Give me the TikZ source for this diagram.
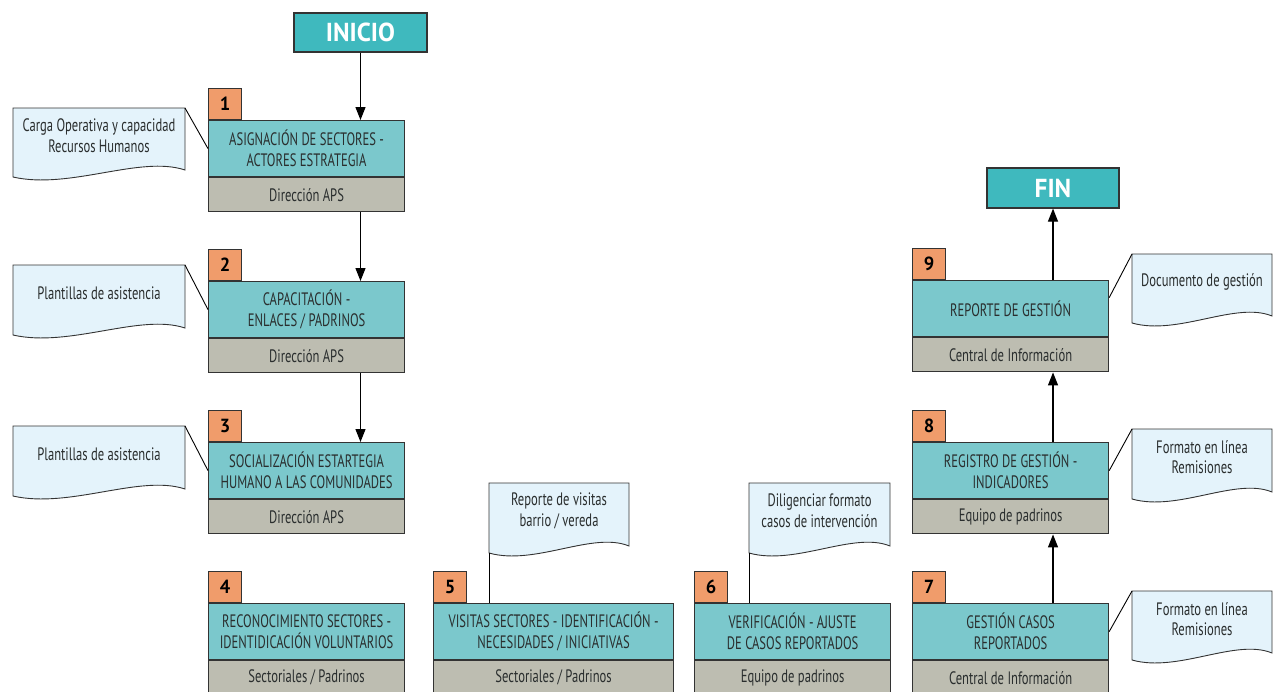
\documentclass[tikz,border=0pt]{standalone}
\usepackage{fontspec}
\setmainfont{PT Sans}[FakeStretch=0.70]
\newfontfamily\headfont{PT Sans}[FakeStretch=0.97]
\usetikzlibrary{arrows.meta}
\definecolor{iniciofill}{HTML}{3FB9BE}
\definecolor{tealfill}{HTML}{7BC8CC}
\definecolor{grayfill}{HTML}{BDBDB1}
\definecolor{badgefill}{HTML}{F09C6B}
\definecolor{notefill}{HTML}{E4F3FB}
\definecolor{bord}{HTML}{333333}
\definecolor{txt}{HTML}{2A2E2E}
\newcommand\notebox[6]{%
  \draw[notestyle] (#2,#3) -- (#4,#3) -- (#4,{#5-7})
    .. controls ({#4-0.26*(#4-#2)},{#5-22}) and ({#2+0.33*(#4-#2)},{#5+13}) .. (#2,#5) -- cycle;
  \node[notetext] (#1) at ({(#2+#4)/2},{#3+28}) {#6};
  \coordinate (#1-tl) at (#2,#3);
  \coordinate (#1-tr) at (#4,#3);
  \coordinate (#1-bl) at (#2,#5);
}
\begin{document}
\begin{tikzpicture}[x=1pt,y=-1pt,
  bodyfont/.style={font=\fontsize{18}{20.7}\selectfont},
  stepbox/.style={draw=bord, line width=1.2pt, fill=tealfill, minimum height=56pt,
    inner sep=0pt, align=center, text=txt, bodyfont, anchor=north west},
  rolebox/.style={draw=bord, line width=1.2pt, fill=grayfill, minimum height=34pt,
    inner sep=0pt, align=center, text=txt, bodyfont, anchor=north west},
  badge/.style={draw=bord, line width=1.2pt, fill=badgefill, minimum width=33pt,
    minimum height=31pt, inner sep=0pt, text=black,
    font=\headfont\fontsize{19}{19}\bfseries\selectfont, anchor=south west},
  endbox/.style={draw=bord, line width=1.2pt, fill=iniciofill, inner sep=0pt,
    text=white, font=\headfont\fontsize{26}{26}\bfseries\selectfont},
  notestyle/.style={draw=bord, line width=0.9pt, fill=notefill},
  notetext/.style={align=center, text=txt, bodyfont, inner sep=0pt},
  link/.style={draw=black, line width=0.9pt},
  arr/.style={draw=black, line width=1.2pt, -{Triangle[length=13pt,width=10pt]}}
]
\useasboundingbox (0,0) rectangle (1273,691);
\clip (0,0) rectangle (1273,691);

% start / end
\node[endbox, minimum width=133pt, minimum height=39pt] (inicio) at (360.5,32.5) {INICIO};
\node[endbox, minimum width=132pt, minimum height=40pt] (fin) at (1053,188) {FIN};

% column 1
\node[stepbox, minimum width=196pt] (s1) at (208,120) {ASIGNACIÓN DE SECTORES -\\ACTORES ESTRATEGIA};
\node[rolebox, minimum width=196pt] (r1) at (s1.south west) {Dirección APS};
\node[badge] (b1) at (s1.north west) {1};

\node[stepbox, minimum width=196pt] (s2) at (208,281) {CAPACITACIÓN -\\ENLACES / PADRINOS};
\node[rolebox, minimum width=196pt] (r2) at (s2.south west) {Dirección APS};
\node[badge] (b2) at (s2.north west) {2};

\node[stepbox, minimum width=196pt] (s3) at (208,442) {SOCIALIZACIÓN ESTARTEGIA\\HUMANO A LAS COMUNIDADES};
\node[rolebox, minimum width=196pt] (r3) at (s3.south west) {Dirección APS};
\node[badge] (b3) at (s3.north west) {3};

\node[stepbox, minimum width=196pt] (s4) at (208,603) {RECONOCIMIENTO SECTORES -\\IDENTIDICACIÓN VOLUNTARIOS};
\node[rolebox, minimum width=196pt] (r4) at (s4.south west) {Sectoriales / Padrinos};
\node[badge] (b4) at (s4.north west) {4};

% bottom row
\node[stepbox, minimum width=240pt] (s5) at (433,603) {VISITAS SECTORES - IDENTIFICACIÓN -\\NECESIDADES / INICIATIVAS};
\node[rolebox, minimum width=240pt] (r5) at (s5.south west) {Sectoriales / Padrinos};
\node[badge] (b5) at (s5.north west) {5};

\node[stepbox, minimum width=196pt] (s6) at (694,603) {VERIFICACIÓN - AJUSTE\\DE CASOS REPORTADOS};
\node[rolebox, minimum width=196pt] (r6) at (s6.south west) {Equipo de padrinos};
\node[badge] (b6) at (s6.north west) {6};

% right column
\node[stepbox, minimum width=196pt] (s7) at (912,603) {GESTIÓN CASOS\\REPORTADOS};
\node[rolebox, minimum width=196pt] (r7) at (s7.south west) {Central de Información};
\node[badge] (b7) at (s7.north west) {7};

\node[stepbox, minimum width=196pt] (s8) at (912,442) {REGISTRO DE GESTIÓN -\\INDICADORES};
\node[rolebox, minimum width=196pt] (r8) at (s8.south west) {Equipo de padrinos};
\node[badge] (b8) at (s8.north west) {8};

\node[stepbox, minimum width=196pt] (s9) at (912,280) {REPORTE DE GESTIÓN};
\node[rolebox, minimum width=196pt] (r9) at (s9.south west) {Central de Información};
\node[badge] (b9) at (s9.north west) {9};

% notes
\notebox{c1}{13}{108}{185}{177}{Carga Operativa y capacidad\\Recursos Humanos}
\notebox{c2}{13}{265}{185}{335}{Plantillas de asistencia}
\notebox{c3}{13}{426}{185}{496}{Plantillas de asistencia}
\notebox{c5}{489}{483}{629}{553}{Reporte de visitas\\barrio / vereda}
\notebox{c6}{749}{483}{890}{553}{Diligenciar formato\\casos de intervención}
\notebox{c7}{1132}{591}{1272}{660}{Formato en línea\\Remisiones}
\notebox{c8}{1132}{429}{1272}{499}{Formato en línea\\Remisiones}
\notebox{c9}{1132}{254}{1272}{323}{Documento de gestión}

% note links
\draw[link] (c1-tr) -- (s1.west);
\draw[link] (c2-tr) -- (s2.west);
\draw[link] (c3-tr) -- (s3.west);
\draw[link] (c5-bl) -- (c5-bl |- s5.north);
\draw[link] (c6-bl) -- (c6-bl |- s6.north);
\draw[link] (c7-tl) -- (s7.east);
\draw[link] (c8-tl) -- (s8.east);
\draw[link] (c9-tl) -- ([yshift=11pt]s9.east);

% flow arrows
\draw[arr] (inicio.south) -- (inicio |- s1.north);
\draw[arr] (inicio |- r1.south) -- (inicio |- s2.north);
\draw[arr] (inicio |- r2.south) -- (inicio |- s3.north);
\draw[arr] (fin |- s7.north) -- (fin |- r8.south);
\draw[arr] (fin |- s8.north) -- (fin |- r9.south);
\draw[arr] (fin |- s9.north) -- (fin.south);
\end{tikzpicture}
\end{document}
